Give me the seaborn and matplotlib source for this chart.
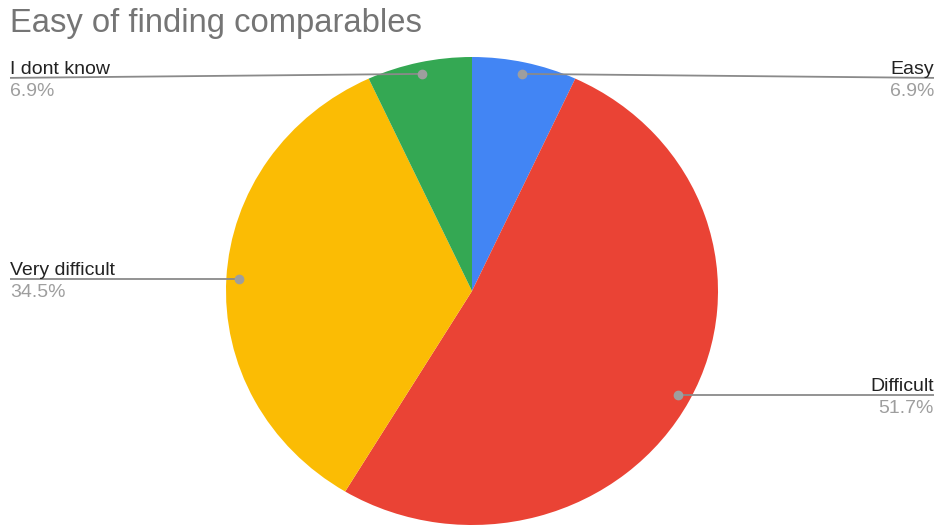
import numpy as np
import matplotlib
matplotlib.use('Agg')
import matplotlib.pyplot as plt
import matplotlib.transforms as mtransforms
import seaborn as sns

# Survey answers (counts, 29 responses)
labels = ['Easy', 'Difficult', 'Very difficult', 'I dont know']
counts = [2, 15, 10, 2]
colors = ['#4285F4', '#EA4335', '#FBBC04', '#34A853']
label_side = ['right', 'right', 'left', 'left']

sns.set_theme(style='white')
plt.rcParams['font.family'] = ['Liberation Sans', 'DejaVu Sans']

fig = plt.figure(figsize=(9.37, 5.25), dpi=100)
ax = fig.add_axes([226 / 937, 0, 492 / 937, 468 / 525])

wedges, _ = ax.pie(counts, colors=sns.color_palette(colors), startangle=90,
                   counterclock=False, wedgeprops=dict(linewidth=0))
ax.set_aspect('auto')
ax.set_xlim(-1, 1)
ax.set_ylim(-1, 1)
ax.axis('off')

fig.text(10 / 937, 1 - 32 / 525, 'Easy of finding comparables', fontsize=23.6,
         color='#757575', va='baseline', ha='left')

total = sum(counts)
inv = ax.transData.inverted()
x_left = inv.transform(fig.transFigure.transform((10 / 937, 0)))[0]
x_right = inv.transform(fig.transFigure.transform((934 / 937, 0)))[0]
px_y = 2 / 468  # one pixel in data units (vertical)

for w, lab, c, side in zip(wedges, labels, counts, label_side):
    ang = np.deg2rad((w.theta1 + w.theta2) / 2)
    dx, dy = 0.95 * np.cos(ang), 0.95 * np.sin(ang)
    # labels near the top sit a little lower than their dot
    ly = dy - 4 * px_y if dy > 0.5 else dy
    x_end = x_right if side == 'right' else x_left
    ax.plot([dx, x_end], [dy, ly], color='#8a8a8a', lw=1.3, clip_on=False,
            solid_capstyle='butt')
    ax.plot(dx, dy, 'o', color='#9e9e9e', ms=6, clip_on=False)
    ha = 'right' if side == 'right' else 'left'
    up = mtransforms.offset_copy(ax.transData, fig=fig, y=4, units='dots')
    down = mtransforms.offset_copy(ax.transData, fig=fig, y=-5, units='dots')
    ax.text(x_end, ly, lab, transform=up, ha=ha, va='baseline',
            fontsize=14, color='#222222')
    ax.text(x_end, ly, f'{100 * c / total:.1f}%', transform=down, ha=ha,
            va='top', fontsize=14, color='#9e9e9e')

fig.savefig('out.png', dpi=100)
